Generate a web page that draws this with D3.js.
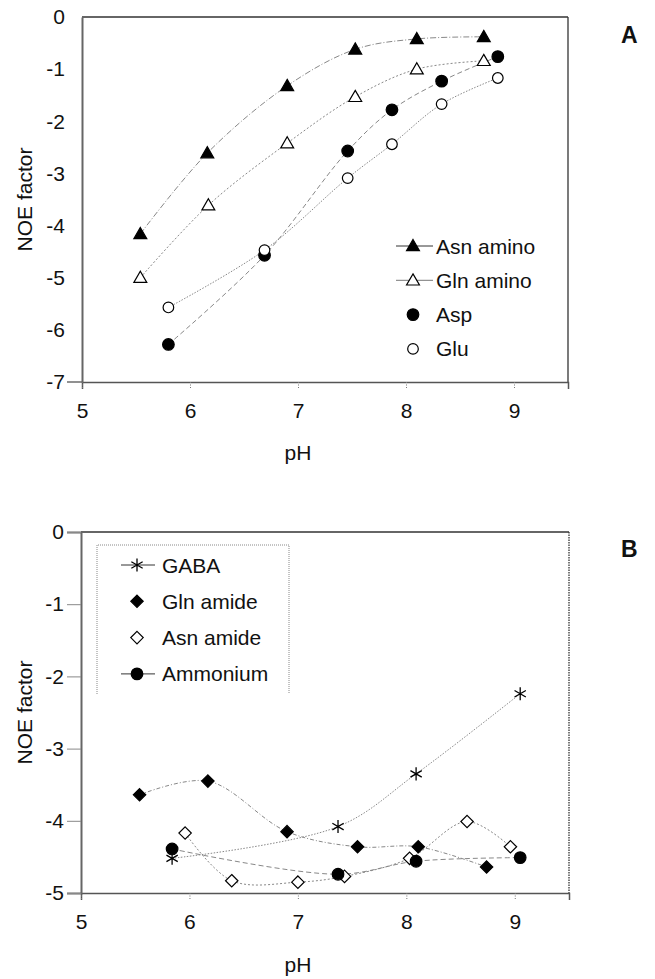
<!DOCTYPE html>
<html><head><meta charset="utf-8">
<script src="https://cdn.jsdelivr.net/npm/d3@7"></script>
<style>body{margin:0;background:#fff}svg{display:block}text{font-family:"Liberation Sans",Arial,sans-serif;fill:#111}</style>
</head><body>
<svg id="c" width="655" height="979"></svg>
<script>
// ---- Panel A data ----
const asnAminoPH = [5.54, 6.16, 6.90, 7.53, 8.10, 8.72];
const asnAminoNOE = [-4.16, -2.61, -1.32, -0.62, -0.42, -0.38];
const glnAminoPH = [5.54, 6.17, 6.90, 7.53, 8.10, 8.72];
const glnAminoNOE = [-5.00, -3.61, -2.42, -1.53, -1.00, -0.84];
const aspPH = [5.80, 6.69, 7.46, 7.87, 8.33, 8.85];
const aspNOE = [-6.28, -4.57, -2.57, -1.78, -1.23, -0.76];
const gluPH = [5.80, 6.69, 7.46, 7.87, 8.33, 8.85];
const gluNOE = [-5.57, -4.47, -3.09, -2.44, -1.67, -1.17];
// ---- Panel B data ----
const gabaPH = [5.84, 7.37, 8.09, 9.05];
const gabaNOE = [-4.52, -4.08, -3.35, -2.24];
const glnAmidePH = [5.54, 6.17, 6.90, 7.55, 8.11, 8.74];
const glnAmideNOE = [-3.64, -3.45, -4.15, -4.36, -4.36, -4.64];
const asnAmidePH = [5.96, 6.39, 7.00, 7.43, 8.03, 8.56, 8.96];
const asnAmideNOE = [-4.17, -4.83, -4.85, -4.77, -4.52, -4.01, -4.36];
const ammoniumPH = [5.84, 7.37, 8.09, 9.05];
const ammoniumNOE = [-4.39, -4.74, -4.56, -4.51];
// ---- axes ----
const xTicks = [5, 6, 7, 8, 9];
const yTicksA = [0, -1, -2, -3, -4, -5, -6, -7];
const yTicksB = [0, -1, -2, -3, -4, -5];
const legendA = ["Asn amino", "Gln amino", "Asp", "Glu"];
const legendB = ["GABA", "Gln amide", "Asn amide", "Ammonium"];

const svg = d3.select("#c");
const FONT = 21;

function zip(xs, ys){ return xs.map((x,i)=>[x, ys[i]]); }

function marker(g, type, x, y){
  if(type==="triFill"||type==="triOpen"){
    g.append("path").attr("d", d3.symbol(d3.symbolTriangle, 72)()).attr("transform",`translate(${x},${y+1})`)
      .attr("fill", type==="triFill"?"#000":"#fff").attr("stroke","#000").attr("stroke-width",1.2);
  } else if(type==="circFill"||type==="circOpen"){
    g.append("circle").attr("cx",x).attr("cy",y).attr("r", type==="circFill"?5.8:5.3)
      .attr("fill", type==="circFill"?"#000":"#fff").attr("stroke","#000").attr("stroke-width",1.2);
  } else if(type==="diaFill"||type==="diaOpen"){
    const s=6.2;
    g.append("path").attr("d",`M${x},${y-s}L${x+s},${y}L${x},${y+s}L${x-s},${y}Z`)
      .attr("fill", type==="diaFill"?"#000":"#fff").attr("stroke","#000").attr("stroke-width",1.2);
  } else if(type==="star"){
    g.append("path").attr("d", d3.symbol(d3.symbolAsterisk, 120)()).attr("transform",`translate(${x},${y})`)
      .attr("fill","none").attr("stroke","#000").attr("stroke-width",1.3);
  }
}

function panel(cfg){
  const g = svg.append("g");
  const x = d3.scaleLinear().domain([5, 9.5]).range([cfg.left, cfg.right]);
  const y = d3.scaleLinear().domain(cfg.yDomain).range([cfg.bottom, cfg.top]);
  const fmt = d => String(d);
  // frame
  g.append("line").attr("x1",cfg.left).attr("x2",cfg.right).attr("y1",cfg.top).attr("y2",cfg.top).attr("stroke","#333").attr("stroke-width",1.3);
  g.append("line").attr("x1",cfg.right).attr("x2",cfg.right).attr("y1",cfg.top).attr("y2",cfg.bottom)
    .attr("stroke","#333").attr("stroke-width",1.3).attr("stroke-dasharray", cfg.rightDash||null);
  // x axis
  const xa = g.append("g").attr("transform",`translate(0,${cfg.bottom})`)
    .call(d3.axisBottom(x).tickValues(xTicks).tickFormat(fmt).tickSize(7).tickPadding(14));
  xa.select(".domain").attr("stroke","#555").attr("stroke-width",1.5);
  xa.selectAll(".tick line").attr("stroke","#777").attr("stroke-dasharray","1,1.5");
  xa.selectAll("text").attr("font-size",FONT).attr("font-family","Liberation Sans, Arial").attr("fill","#111");
  g.append("line").attr("x1",cfg.left-cfg.xExt).attr("x2",cfg.left).attr("y1",cfg.bottom).attr("y2",cfg.bottom).attr("stroke","#555").attr("stroke-width",1.3);
  // y axis
  const ya = g.append("g").attr("transform",`translate(${cfg.left},0)`)
    .call(d3.axisLeft(y).tickValues(cfg.yTicks).tickFormat(fmt).tickSize(cfg.yTickSize).tickPadding(17-cfg.yTickSize));
  ya.select(".domain").attr("stroke","#666").attr("stroke-width",2);
  ya.selectAll(".tick line").attr("stroke","#888");
  ya.selectAll("text").attr("font-size",FONT).attr("font-family","Liberation Sans, Arial").attr("fill","#111");
  // titles
  g.append("text").attr("x",298).attr("y",cfg.xTitleY).attr("text-anchor","middle").attr("font-size",FONT).text("pH");
  g.append("text").attr("transform",`translate(32,${(cfg.top+cfg.bottom)/2}) rotate(-90)`).attr("text-anchor","middle").attr("font-size",FONT).text("NOE factor");
  g.append("text").attr("x",621).attr("y",cfg.letterY).attr("font-size",23).attr("font-weight","bold").text(cfg.letter);
  // series
  cfg.series.forEach(s=>{
    const pts = zip(s.px, s.py);
    const line = d3.line().x(d=>x(d[0])).y(d=>y(d[1])).curve(d3.curveCatmullRom.alpha(0.5));
    g.append("path").attr("d", line(pts)).attr("fill","none").attr("stroke",s.lc||"#888").attr("stroke-width",1).attr("stroke-dasharray",s.dash);
  });
  cfg.series.forEach(s=>{
    zip(s.px, s.py).forEach(d=>marker(g, s.m, x(d[0]), y(d[1])));
  });
  return g;
}

const A = panel({left:82, right:568, top:17, bottom:382, yDomain:[-7,0], yTicks:yTicksA, yTickSize:0, xExt:15,
  xTitleY:460, letter:"A", letterY:43,
  series:[
    {px:asnAminoPH, py:asnAminoNOE, m:"triFill", dash:"6,2,1,2"},
    {px:glnAminoPH, py:glnAminoNOE, m:"triOpen", dash:"2,2"},
    {px:aspPH, py:aspNOE, m:"circFill", dash:"5,3"},
    {px:gluPH, py:gluNOE, m:"circOpen", dash:"1.5,1.5"}
  ]});

const B = panel({left:81, right:569, top:532, bottom:893, yDomain:[-5,0], yTicks:yTicksB, yTickSize:14, xExt:0,
  xTitleY:972, letter:"B", letterY:557, rightDash:"1.5,1",
  series:[
    {px:gabaPH, py:gabaNOE, m:"star", dash:"1.5,1.5"},
    {px:glnAmidePH, py:glnAmideNOE, m:"diaFill", dash:"4,2,1,2"},
    {px:asnAmidePH, py:asnAmideNOE, m:"diaOpen", dash:"2,2"},
    {px:ammoniumPH, py:ammoniumNOE, m:"circFill", dash:"5,3"}
  ]});

// Legend A
const typesA = ["triFill","triOpen","circFill","circOpen"];
const linesA = [true,true,false,false];
legendA.forEach((t,i)=>{
  const cy = 246 + i*34.3;
  if(linesA[i]) A.append("line").attr("x1",396).attr("x2",433).attr("y1",cy).attr("y2",cy).attr("stroke",i===0?"#333":"#777").attr("stroke-width",1);
  marker(A, typesA[i], 413, cy);
  A.append("text").attr("x",436).attr("y",cy+7.5).attr("font-size",FONT).text(t);
});
// Legend B
B.append("path").attr("d","M97,694V545H289V694").attr("fill","none").attr("stroke","#888").attr("stroke-width",1).attr("stroke-dasharray","1,1");
const typesB = ["star","diaFill","diaOpen","circFill"];
const linesB = [true,false,false,true];
legendB.forEach((t,i)=>{
  const cy = 565 + i*36.3;
  if(linesB[i]) B.append("line").attr("x1",121).attr("x2",155).attr("y1",cy).attr("y2",cy).attr("stroke","#333").attr("stroke-width",1);
  marker(B, typesB[i], 137, cy);
  B.append("text").attr("x",162).attr("y",cy+7.5).attr("font-size",FONT).text(t);
});
</script>
</body></html>
